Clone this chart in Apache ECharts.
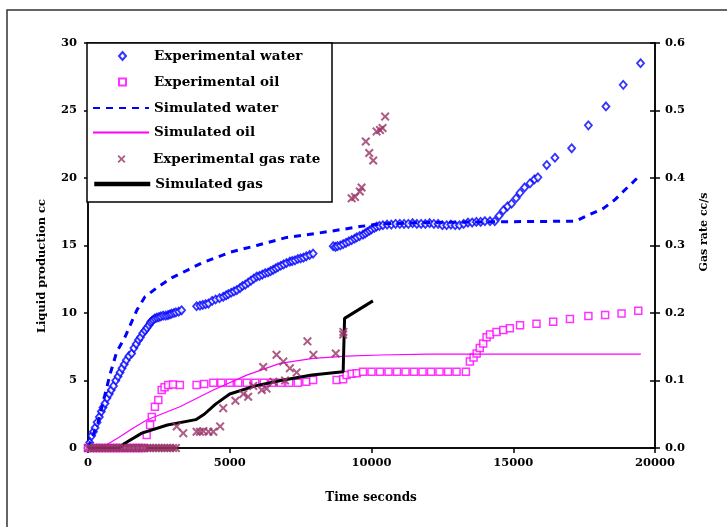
<!DOCTYPE html>
<html><head><meta charset="utf-8">
<script src="https://cdn.jsdelivr.net/npm/echarts@6/dist/echarts.min.js"></script>
<style>html,body{margin:0;padding:0;background:#fff}#c{width:727px;height:527px}</style>
</head><body><div id="c"></div><script>
// ---- data (time in seconds) ----
const seriesNames = ['Experimental water','Experimental oil','Simulated water','Simulated oil','Experimental gas rate','Simulated gas'];
const xTitle = 'Time seconds';
const yLeftTitle = 'Liquid production cc';
const yRightTitle = 'Gas rate cc/s';

const expWater = [[0,0],[60,0.4],[130,0.9],[190,1.2],[250,1.5],[320,1.9],[400,2.3],[470,2.7],[530,3.0],[600,3.3],[670,3.7],[750,4.0],[820,4.3],[900,4.6],[980,5.0],[1060,5.3],[1130,5.6],[1200,5.9],[1280,6.2],[1350,6.5],[1440,6.8],[1540,7.0],[1620,7.4],[1700,7.7],[1780,8.0],[1850,8.2],[1930,8.5],[2010,8.7],[2080,8.9],[2150,9.1],[2200,9.3],[2250,9.4],[2300,9.5],[2360,9.6],[2430,9.65],[2500,9.7],[2570,9.75],[2650,9.8],[2740,9.8],[2820,9.85],[2890,9.9],[2950,9.95],[3030,10.0],[3100,10.05],[3200,10.1],[3300,10.2],
[3830,10.5],[3950,10.55],[4050,10.6],[4150,10.65],[4250,10.7],[4380,10.9],[4500,11.0],[4640,11.1],[4770,11.2],[4870,11.3],[4950,11.4],[5050,11.5],[5150,11.6],[5250,11.7],[5360,11.85],[5450,12.0],[5550,12.1],[5650,12.25],[5750,12.4],[5850,12.55],[5950,12.7],[6050,12.75],[6150,12.85],[6250,12.95],[6350,13.0],[6440,13.1],[6530,13.2],[6620,13.3],[6700,13.4],[6800,13.5],[6900,13.6],[7000,13.7],[7120,13.8],[7200,13.85],[7300,13.9],[7400,14.0],[7500,14.05],[7600,14.1],[7700,14.2],[7820,14.3],[7940,14.4],
[8650,14.95],[8730,14.9],[8800,14.95],[8900,15.0],[9000,15.1],[9100,15.2],[9200,15.3],[9300,15.4],[9400,15.5],[9480,15.6],[9580,15.7],[9700,15.8],[9780,15.9],[9850,16.0],[9930,16.1],[10000,16.2],[10100,16.3],[10180,16.4],[10280,16.45],[10400,16.5],[10550,16.55],[10700,16.55],[10850,16.6],[11000,16.6],[11150,16.6],[11300,16.6],[11450,16.65],[11600,16.6],[11750,16.6],[11900,16.6],[12050,16.65],[12200,16.6],[12350,16.6],[12500,16.5],[12650,16.5],[12800,16.55],[12950,16.5],[13100,16.5],[13250,16.6],[13400,16.7],[13550,16.7],[13700,16.75],[13850,16.75],[14000,16.8],[14180,16.8],[14350,16.8],[14500,17.2],[14650,17.6],[14800,17.9],[14940,18.1],[15100,18.5],[15240,18.9],[15400,19.3],[15590,19.6],[15750,19.9],[15870,20.05],[16180,20.96],[16470,21.5],[17060,22.2],[17650,23.9],[18270,25.3],[18880,26.9],[19490,28.5]];

const expOil = [[0,0],[150,0],[300,0],[450,0],[600,0],[750,0],[900,0],[1050,0],[1200,0],[1350,0],[1500,0],[1650,0],[1800,0],[1950,0],[2070,0.96],[2190,1.7],[2250,2.3],[2360,3.06],[2480,3.55],[2600,4.3],[2700,4.5],[2830,4.67],[3000,4.7],[3240,4.67],[3830,4.67],[4100,4.75],[4420,4.84],[4700,4.84],[5000,4.84],[5300,4.84],[5600,4.84],[5900,4.84],[6200,4.84],[6500,4.84],[6800,4.84],[7100,4.84],[7400,4.84],[7700,4.9],[7940,5.04],[8770,5.04],[9000,5.1],[9120,5.4],[9300,5.5],[9480,5.53],[9700,5.65],[10000,5.65],[10300,5.65],[10600,5.65],[10900,5.65],[11200,5.65],[11500,5.65],[11800,5.65],[12100,5.65],[12400,5.65],[12700,5.65],[13000,5.65],[13330,5.65],[13470,6.4],[13600,6.7],[13710,7.0],[13820,7.4],[13940,7.75],[14060,8.2],[14180,8.4],[14410,8.6],[14650,8.75],[14880,8.87],[15240,9.1],[15820,9.2],[16410,9.36],[17000,9.56],[17650,9.78],[18240,9.85],[18820,9.97],[19410,10.17]];

const simWater = [[0,0],[350,1.85],[770,5.4],[1010,7.1],[1300,8.2],[1720,10.2],[2010,11.2],[2480,11.95],[2950,12.6],[3530,13.2],[4010,13.7],[5010,14.5],[5950,15.0],[7010,15.6],[8070,15.9],[9000,16.2],[9590,16.4],[10300,16.6],[12000,16.7],[14000,16.75],[17200,16.8],[17700,17.3],[18180,17.75],[18590,18.4],[18880,19.0],[19230,19.7],[19470,20.2]];

const simOil = [[0,0],[300,0],[700,0.3],[1100,0.8],[1500,1.35],[2070,2.07],[3240,3.06],[4420,4.3],[5600,5.4],[6770,6.27],[7940,6.64],[9120,6.8],[10300,6.89],[12000,6.95],[19500,6.95]];

const expGasRate = [[0,0],[100,0],[200,0],[300,0],[400,0],[500,0],[600,0],[700,0],[800,0],[900,0],[1000,0],[1100,0],[1200,0],[1300,0],[1400,0],[1500,0],[1600,0],[1700,0],[1800,0],[1900,0],[2000,0],[2100,0],[2200,0],[2300,0],[2400,0],[2500,0],[2600,0],[2700,0],[2800,0],[2900,0],[3000,0],[3100,0],[3130,0.032],[3360,0.022],[3830,0.024],[3950,0.024],[4070,0.025],[4250,0.024],[4420,0.024],[4660,0.032],[4770,0.059],[5200,0.07],[5480,0.08],[5650,0.076],[5830,0.092],[6130,0.086],[6180,0.12],[6300,0.088],[6540,0.098],[6650,0.138],[6890,0.128],[6950,0.1],[7120,0.118],[7360,0.112],[7740,0.158],[7950,0.138],[8740,0.14],[9000,0.168],[9010,0.172],[9300,0.37],[9420,0.372],[9590,0.38],[9650,0.386],[9800,0.454],[9920,0.437],[10060,0.426],[10180,0.469],[10300,0.471],[10390,0.474],[10480,0.491]];

const simGas = [[0,0],[1100,0],[1300,0.007],[1900,0.022],[2800,0.034],[3800,0.042],[4100,0.05],[4500,0.065],[5000,0.08],[5900,0.092],[6800,0.1],[7900,0.108],[9000,0.113],[9050,0.192],[10050,0.218]];

// ---- chart ----
const lab = {fontFamily: 'DejaVu Serif', fontWeight: 'bold', fontSize: 11.5, color: '#000'};
const XMARK = 'path://M0,1.6L1.6,0L5,3.4L8.4,0L10,1.6L6.6,5L10,8.4L8.4,10L5,6.6L1.6,10L0,8.4L3.4,5Z';
const legText = {fontFamily: 'DejaVu Serif', fontWeight: 'bold', fontSize: 13.5, color: '#000', lineHeight: 16};
function lineLegend(name, center, extra) {
  return Object.assign({
    data: [name], left: 92, top: center - 8, orient: 'vertical',
    itemWidth: 56, itemHeight: 10, padding: 0, selectedMode: false, z: 10,
    itemStyle: {opacity: 0},
    textStyle: Object.assign({}, legText)
  }, extra || {});
}
function symLegend(name, center, w, h) {
  const cx = 121.5;
  const left = cx - w / 2;
  return {
    data: [name], left: left, top: center - 8, orient: 'vertical',
    itemWidth: w, itemHeight: h, padding: 0, selectedMode: false, z: 10,
    textStyle: Object.assign({padding: [0, 0, 0, 153 - (left + w + 5)]}, legText)
  };
}
const chart = echarts.init(document.getElementById('c'), null, {renderer: 'canvas'});
chart.setOption({
  animation: false,
  backgroundColor: '#fff',
  grid: {left: 88, right: 72, top: 43, bottom: 79, show: true, borderColor: '#000', borderWidth: 1.5, backgroundColor: 'transparent'},
  xAxis: {type: 'value', min: 0, max: 20000, interval: 5000,
    axisLine: {lineStyle: {color: '#000', width: 1.5}}, axisTick: {length: 5, lineStyle: {color: '#000', width: 1.5}},
    axisLabel: Object.assign({margin: 9, formatter: v => String(v)}, lab), splitLine: {show: false}},
  yAxis: [
    {type: 'value', min: 0, max: 30, interval: 5, position: 'left',
      axisLine: {show: true, lineStyle: {color: '#000', width: 1.5}}, axisTick: {show: true, length: 4, lineStyle: {color: '#000', width: 1.5}},
      axisLabel: Object.assign({margin: 11}, lab), splitLine: {show: false}},
    {type: 'value', min: 0, max: 0.6, interval: 0.1, position: 'right',
      axisLine: {show: true, lineStyle: {color: '#000', width: 1.5}}, axisTick: {show: true, length: 5, lineStyle: {color: '#000', width: 1.5}},
      axisLabel: Object.assign({margin: 10, formatter: v => v.toFixed(1)}, lab), splitLine: {show: false}},
    {type: 'value', min: 0, max: 0.6, interval: 0.1, position: 'right',
      axisLine: {show: false}, axisTick: {show: true, inside: true, length: 5, lineStyle: {color: '#000', width: 1.5}},
      axisLabel: {show: false}, splitLine: {show: false}}
  ],
  legend: [
    symLegend(seriesNames[0], 56, 7, 8),
    symLegend(seriesNames[1], 82, 7, 7),
    lineLegend(seriesNames[2], 108),
    lineLegend(seriesNames[3], 132.5),
    symLegend(seriesNames[4], 159, 8, 8),
    lineLegend(seriesNames[5], 184, {lineStyle: {width: 4.5}})
  ],
  graphic: [
    {type: 'rect', shape: {x: 7, y: 10, width: 740, height: 540}, style: {fill: 'none', stroke: '#333', lineWidth: 1.5}, z: 0, silent: true},
    {type: 'rect', shape: {x: 87, y: 43, width: 245, height: 159}, style: {fill: '#fff', stroke: '#000', lineWidth: 1.5}, z: 8, silent: true},
    {type: 'text', x: 42, y: 266, rotation: Math.PI / 2, style: {text: yLeftTitle, font: 'bold 11.5px "DejaVu Serif"', fill: '#000', textAlign: 'center', textVerticalAlign: 'middle'}, z: 10},
    {type: 'text', x: 704, y: 232, rotation: Math.PI / 2, style: {text: yRightTitle, font: 'bold 11px "DejaVu Serif"', fill: '#000', textAlign: 'center', textVerticalAlign: 'middle'}, z: 10},
    {type: 'text', x: 371, y: 498, style: {text: xTitle, font: 'bold 12px "DejaVu Serif"', fill: '#000', textAlign: 'center', textVerticalAlign: 'middle'}, z: 10}
  ],
  series: [
    {name: seriesNames[0], type: 'scatter', data: expWater, symbol: 'diamond', symbolSize: [7, 8],
      itemStyle: {color: '#fff', borderColor: '#0000ff', borderWidth: 1.8}, z: 3},
    {name: seriesNames[1], type: 'scatter', data: expOil, symbol: 'rect', symbolSize: 7,
      itemStyle: {color: '#fff', borderColor: '#ff00ff', borderWidth: 1.5}, z: 3},
    {name: seriesNames[2], type: 'line', data: simWater, symbol: 'none', showSymbol: false,
      lineStyle: {color: '#0000ff', width: 3, type: [7, 6]}, itemStyle: {color: '#0000ff'}, z: 4},
    {name: seriesNames[3], type: 'line', data: simOil, symbol: 'none', showSymbol: false,
      lineStyle: {color: '#ff00ff', width: 1.2}, itemStyle: {color: '#ff00ff'}, z: 4},
    {name: seriesNames[4], type: 'scatter', yAxisIndex: 1, data: expGasRate, symbol: XMARK, symbolSize: 9,
      itemStyle: {color: '#993366'}, z: 5},
    {name: seriesNames[5], type: 'line', yAxisIndex: 1, data: simGas, symbol: 'none', showSymbol: false,
      lineStyle: {color: '#000', width: 3}, itemStyle: {color: '#000'}, z: 5}
  ]
});
</script></body></html>
